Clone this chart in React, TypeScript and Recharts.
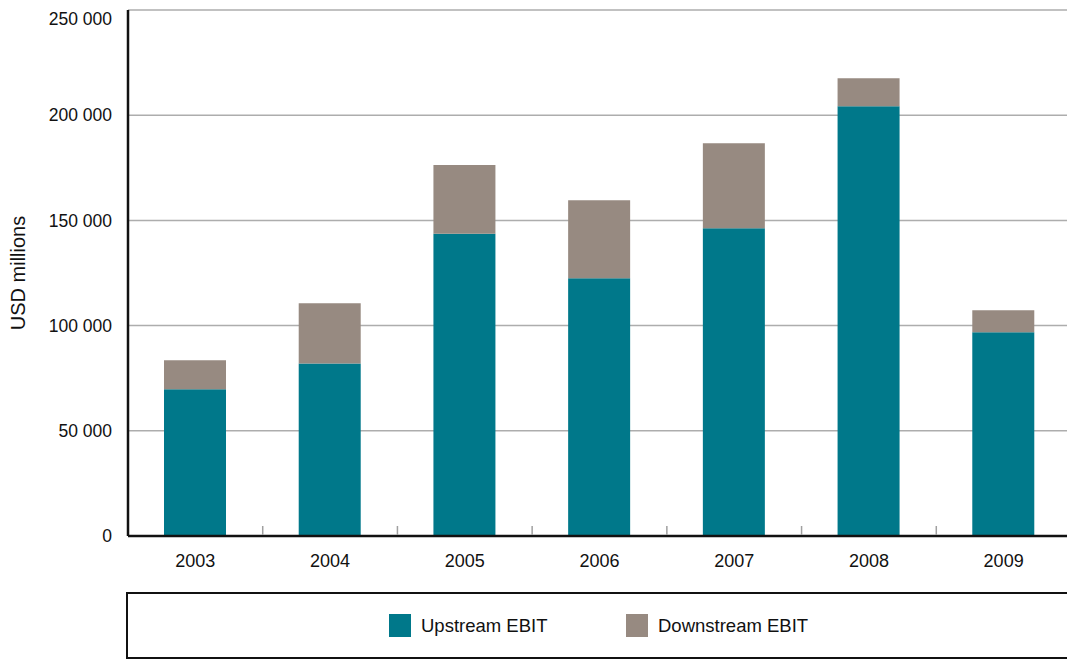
import React from "react";
import {
  Bar,
  BarChart,
  CartesianGrid,
  XAxis,
  YAxis,
} from "recharts";

// EBIT split by segment, USD millions
const years = ["2003", "2004", "2005", "2006", "2007", "2008", "2009"];
const upstreamEbit = [69700, 82000, 143600, 122500, 146300, 204300, 96800];
const downstreamEbit = [13800, 28600, 32700, 37100, 40400, 13300, 10500];
const yTicks = [0, 50000, 100000, 150000, 200000, 250000];

const UPSTREAM = "#00788A";
const DOWNSTREAM = "#978A81";
const FONT = "'Liberation Sans', Arial, sans-serif";

const CHART_W = 1067;
const CHART_H = 590;
const Y_AXIS_W = 120;
const RIGHT_M = 4;
const HALF_STEP = (CHART_W - Y_AXIS_W - RIGHT_M) / years.length / 2;

const data = years.map((year, i) => ({
  year,
  upstream: upstreamEbit[i],
  downstream: downstreamEbit[i],
}));

const fmt = (v: number) =>
  v === 0 ? "0" : String(v).replace(/\B(?=(\d{3})+(?!\d))/g, " ");

// category label plus the small grey divider tick between categories
function YearTick(props: any) {
  const { x, y, payload, index } = props;
  return (
    <g>
      {index < years.length - 1 && (
        <line
          x1={x + HALF_STEP}
          x2={x + HALF_STEP}
          y1={y - 18}
          y2={y - 9}
          stroke="#A0A0A0"
          strokeWidth={1.5}
        />
      )}
      <text
        x={x}
        y={y + 23}
        textAnchor="middle"
        fontSize={18}
        fontFamily={FONT}
        fill="#111"
      >
        {payload.value}
      </text>
    </g>
  );
}

function LegendBox() {
  const item = (color: string, label: string, left: number) => (
    <div
      style={{
        position: "absolute",
        left,
        top: 20,
        display: "flex",
        alignItems: "center",
      }}
    >
      <div style={{ width: 22, height: 23, background: color }} />
      <span style={{ marginLeft: 10, fontSize: 18.5, color: "#111" }}>{label}</span>
    </div>
  );
  return (
    <div
      style={{
        position: "absolute",
        left: 118,
        top: 584,
        width: 944,
        height: 63,
        border: "2px solid #111",
        fontFamily: FONT,
      }}
    >
      {item(UPSTREAM, "Upstream EBIT", 261)}
      {item(DOWNSTREAM, "Downstream EBIT", 498)}
    </div>
  );
}

export default function App() {
  return (
    <div style={{ position: "relative", width: CHART_W, height: 651 }}>
      <BarChart
        width={CHART_W}
        height={CHART_H}
        data={data}
        margin={{ top: 2, right: RIGHT_M, left: 0, bottom: 0 }}
        barSize={62}
      >
        <CartesianGrid vertical={false} stroke="#ADADAD" strokeWidth={1.5} />
        <XAxis
          dataKey="year"
          height={62}
          axisLine={{ stroke: "#111", strokeWidth: 2.5 }}
          tickLine={false}
          tick={<YearTick />}
          interval={0}
        />
        <XAxis
          xAxisId="top"
          dataKey="year"
          orientation="top"
          height={0}
          tick={false}
          tickLine={false}
          axisLine={{ stroke: "#111", strokeWidth: 2.5 }}
        />
        <YAxis
          width={Y_AXIS_W}
          domain={[0, 250000]}
          ticks={yTicks}
          tickFormatter={fmt}
          tickLine={false}
          tickMargin={10}
          axisLine={{ stroke: "#111", strokeWidth: 2.5 }}
          tick={{ fontSize: 17.5, fontFamily: FONT, fill: "#111" }}
          label={{
            value: "USD millions",
            angle: -90,
            position: "insideLeft",
            offset: 10,
            style: {
              textAnchor: "middle",
              fontSize: 20,
              fontFamily: FONT,
              fill: "#111",
            },
          }}
        />
        <YAxis
          yAxisId="right"
          orientation="right"
          width={0}
          domain={[0, 250000]}
          tick={false}
          tickLine={false}
          axisLine={{ stroke: "#111", strokeWidth: 2.5 }}
        />
        <Bar
          dataKey="upstream"
          stackId="ebit"
          fill={UPSTREAM}
          isAnimationActive={false}
        />
        <Bar
          dataKey="downstream"
          stackId="ebit"
          fill={DOWNSTREAM}
          isAnimationActive={false}
        />
      </BarChart>
      <LegendBox />
    </div>
  );
}
